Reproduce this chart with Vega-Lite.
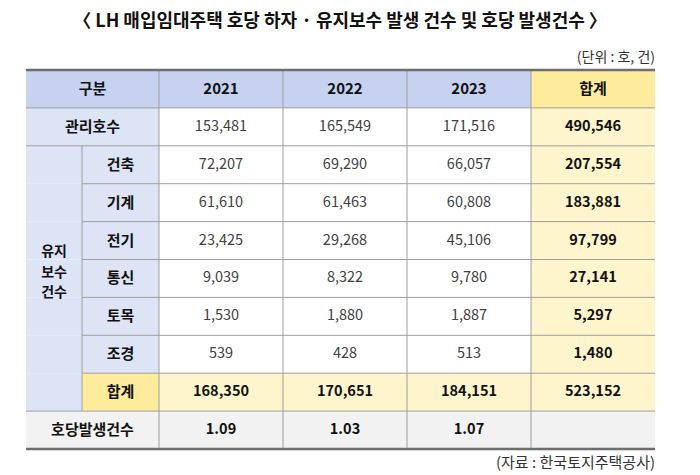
{
  "$schema": "https://vega.github.io/schema/vega-lite/v6.json",
  "width": 700,
  "height": 475,
  "autosize": {"type": "none"},
  "padding": 0,
  "background": "white",
  "config": {"view": {"stroke": null}, "text": {"font": "Noto Sans CJK KR"}},
  "datasets": {
    "cells": [
      {"row": "관리호수", "col": "2021", "value": 153481},
      {"row": "관리호수", "col": "2022", "value": 165549},
      {"row": "관리호수", "col": "2023", "value": 171516},
      {"row": "관리호수", "col": "합계", "value": 490546},
      {"row": "건축", "col": "2021", "value": 72207},
      {"row": "건축", "col": "2022", "value": 69290},
      {"row": "건축", "col": "2023", "value": 66057},
      {"row": "건축", "col": "합계", "value": 207554},
      {"row": "기계", "col": "2021", "value": 61610},
      {"row": "기계", "col": "2022", "value": 61463},
      {"row": "기계", "col": "2023", "value": 60808},
      {"row": "기계", "col": "합계", "value": 183881},
      {"row": "전기", "col": "2021", "value": 23425},
      {"row": "전기", "col": "2022", "value": 29268},
      {"row": "전기", "col": "2023", "value": 45106},
      {"row": "전기", "col": "합계", "value": 97799},
      {"row": "통신", "col": "2021", "value": 9039},
      {"row": "통신", "col": "2022", "value": 8322},
      {"row": "통신", "col": "2023", "value": 9780},
      {"row": "통신", "col": "합계", "value": 27141},
      {"row": "토목", "col": "2021", "value": 1530},
      {"row": "토목", "col": "2022", "value": 1880},
      {"row": "토목", "col": "2023", "value": 1887},
      {"row": "토목", "col": "합계", "value": 5297},
      {"row": "조경", "col": "2021", "value": 539},
      {"row": "조경", "col": "2022", "value": 428},
      {"row": "조경", "col": "2023", "value": 513},
      {"row": "조경", "col": "합계", "value": 1480},
      {"row": "합계", "col": "2021", "value": 168350},
      {"row": "합계", "col": "2022", "value": 170651},
      {"row": "합계", "col": "2023", "value": 184151},
      {"row": "합계", "col": "합계", "value": 523152},
      {"row": "호당발생건수", "col": "2021", "value": 1.09},
      {"row": "호당발생건수", "col": "2022", "value": 1.03},
      {"row": "호당발생건수", "col": "2023", "value": 1.07},
      {"row": "호당발생건수", "col": "합계", "value": null}
    ],
    "columns": [{"col": "2021"}, {"col": "2022"}, {"col": "2023"}, {"col": "합계"}],
    "rows": [
      {"row": "관리호수", "group": "관리호수"},
      {"row": "건축", "group": "유지보수건수"},
      {"row": "기계", "group": "유지보수건수"},
      {"row": "전기", "group": "유지보수건수"},
      {"row": "통신", "group": "유지보수건수"},
      {"row": "토목", "group": "유지보수건수"},
      {"row": "조경", "group": "유지보수건수"},
      {"row": "합계", "group": "유지보수건수"},
      {"row": "호당발생건수", "group": "호당발생건수"}
    ],
    "groups": [{"group": "유지보수건수", "text": "유지\n보수\n건수"}],
    "notes": [
      {"kind": "title", "text": "〈 LH 매입임대주택 호당 하자 · 유지보수 발생 건수 및 호당 발생건수 〉"},
      {"kind": "unit", "text": "(단위 : 호, 건)"},
      {"kind": "source", "text": "(자료 : 한국토지주택공사)"}
    ]
  },
  "layer": [
    {
      "data": {"name": "cells"},
      "mark": {"type": "rect"},
      "encoding": {
        "x": {"field": "col", "type": "nominal", "axis": null, "scale": {"type": "band", "domain": ["구분", "2021", "2022", "2023", "합계"], "range": [35, 655], "paddingInner": 0, "paddingOuter": 0}},
        "y": {"field": "row", "type": "nominal", "axis": null, "scale": {"type": "band", "domain": ["unit", "header", "관리호수", "건축", "기계", "전기", "통신", "토목", "조경", "합계", "호당발생건수", "source"], "range": [32.1, 486.9], "paddingInner": 0, "paddingOuter": 0}},
        "fill": {
          "condition": [
            {"test": "datum.row === '호당발생건수'", "value": "#f2f2f2"},
            {"test": "datum.row === '합계' || datum.col === '합계'", "value": "#fff5cc"}
          ],
          "value": "#ffffff"
        }
      }
    },
    {
      "data": {"name": "columns"},
      "mark": {"type": "rect"},
      "encoding": {
        "x": {"field": "col", "type": "nominal", "axis": null},
        "y": {"datum": "header", "type": "nominal", "axis": null},
        "fill": {"condition": {"test": "datum.col === '합계'", "value": "#ffeb9c"}, "value": "#c7d2f0"}
      }
    },
    {
      "data": {"values": [{"text": "구분"}]},
      "mark": {"type": "rect", "xOffset": -9, "fill": "#c7d2f0"},
      "encoding": {
        "x": {"datum": "구분", "type": "nominal", "bandPosition": 0, "axis": null},
        "x2": {"datum": "2021", "bandPosition": 0},
        "y": {"datum": "header", "type": "nominal", "axis": null}
      }
    },
    {
      "data": {"name": "rows"},
      "transform": [{"filter": "datum.group !== '유지보수건수'"}],
      "mark": {"type": "rect", "xOffset": -9},
      "encoding": {
        "x": {"datum": "구분", "type": "nominal", "bandPosition": 0, "axis": null},
        "x2": {"datum": "2021", "bandPosition": 0},
        "y": {"field": "row", "type": "nominal", "axis": null},
        "fill": {"condition": {"test": "datum.row === '호당발생건수'", "value": "#f2f2f2"}, "value": "#dde4f6"}
      }
    },
    {
      "data": {"name": "rows"},
      "transform": [{"filter": "datum.group === '유지보수건수'"}],
      "mark": {"type": "rect", "xOffset": 47},
      "encoding": {
        "x": {"datum": "구분", "type": "nominal", "bandPosition": 0, "axis": null},
        "x2": {"datum": "2021", "bandPosition": 0},
        "y": {"field": "row", "type": "nominal", "axis": null},
        "fill": {"condition": {"test": "datum.row === '합계'", "value": "#ffeb9c"}, "value": "#dde4f6"}
      }
    },
    {
      "data": {"name": "rows"},
      "transform": [{"filter": "datum.group === '유지보수건수'"}],
      "mark": {"type": "rect", "xOffset": -9, "x2Offset": 47, "fill": "#dde4f6"},
      "encoding": {
        "x": {"datum": "구분", "type": "nominal", "bandPosition": 0, "axis": null},
        "x2": {"datum": "구분", "bandPosition": 0},
        "y": {"field": "row", "type": "nominal", "axis": null}
      }
    },
    {
      "data": {"name": "rows"},
      "transform": [{"filter": "datum.row === '관리호수' || datum.row === '건축' || datum.row === '호당발생건수'"}],
      "mark": {"type": "rule", "xOffset": -9, "stroke": "#9e9e9e", "strokeWidth": 1},
      "encoding": {
        "x": {"datum": "구분", "type": "nominal", "bandPosition": 0, "axis": null},
        "x2": {"datum": "합계", "bandPosition": 1},
        "y": {"field": "row", "type": "nominal", "bandPosition": 0, "axis": null}
      }
    },
    {
      "data": {"name": "rows"},
      "transform": [{"filter": "datum.group === '유지보수건수' && datum.row !== '건축'"}],
      "mark": {"type": "rule", "xOffset": 47, "stroke": "#9e9e9e", "strokeWidth": 1},
      "encoding": {
        "x": {"datum": "구분", "type": "nominal", "bandPosition": 0, "axis": null},
        "x2": {"datum": "합계", "bandPosition": 1},
        "y": {"field": "row", "type": "nominal", "bandPosition": 0, "axis": null}
      }
    },
    {
      "data": {"name": "columns"},
      "mark": {"type": "rule", "stroke": "#9e9e9e", "strokeWidth": 1},
      "encoding": {
        "x": {"field": "col", "type": "nominal", "bandPosition": 0, "axis": null},
        "y": {"datum": "header", "type": "nominal", "bandPosition": 0, "axis": null},
        "y2": {"datum": "호당발생건수", "bandPosition": 1}
      }
    },
    {
      "data": {"name": "groups"},
      "mark": {"type": "rule", "xOffset": 47, "stroke": "#9e9e9e", "strokeWidth": 1},
      "encoding": {
        "x": {"datum": "구분", "type": "nominal", "bandPosition": 0, "axis": null},
        "y": {"datum": "건축", "type": "nominal", "bandPosition": 0, "axis": null},
        "y2": {"datum": "합계", "bandPosition": 1}
      }
    },
    {
      "data": {"values": [{"edge": "top"}]},
      "mark": {"type": "rule", "xOffset": -9, "stroke": "#6e6e6e", "strokeWidth": 2.5},
      "encoding": {
        "x": {"datum": "구분", "type": "nominal", "bandPosition": 0, "axis": null},
        "x2": {"datum": "합계", "bandPosition": 1},
        "y": {"datum": "header", "type": "nominal", "bandPosition": 0, "axis": null}
      }
    },
    {
      "data": {"values": [{"edge": "bottom"}]},
      "mark": {"type": "rule", "xOffset": -9, "stroke": "#6e6e6e", "strokeWidth": 2.5},
      "encoding": {
        "x": {"datum": "구분", "type": "nominal", "bandPosition": 0, "axis": null},
        "x2": {"datum": "합계", "bandPosition": 1},
        "y": {"datum": "호당발생건수", "type": "nominal", "bandPosition": 1, "axis": null}
      }
    },
    {
      "data": {"name": "columns"},
      "mark": {"type": "text", "fontSize": 15, "fontWeight": "bold", "fill": "#111111"},
      "encoding": {
        "x": {"field": "col", "type": "nominal", "axis": null},
        "y": {"datum": "header", "type": "nominal", "axis": null},
        "text": {"field": "col", "type": "nominal"}
      }
    },
    {
      "data": {"values": [{"text": "구분"}]},
      "mark": {"type": "text", "fontSize": 15, "fontWeight": "bold", "fill": "#111111", "dx": -4.5},
      "encoding": {
        "x": {"datum": "구분", "type": "nominal", "axis": null},
        "y": {"datum": "header", "type": "nominal", "axis": null},
        "text": {"field": "text", "type": "nominal"}
      }
    },
    {
      "data": {"name": "cells"},
      "transform": [{"filter": "datum.row !== '합계' && datum.row !== '호당발생건수' && datum.col !== '합계'"}],
      "mark": {"type": "text", "fontSize": 14.5, "fill": "#404040"},
      "encoding": {
        "x": {"field": "col", "type": "nominal", "axis": null},
        "y": {"field": "row", "type": "nominal", "axis": null},
        "text": {"field": "value", "type": "quantitative", "format": ","}
      }
    },
    {
      "data": {"name": "cells"},
      "transform": [{"filter": "datum.row !== '호당발생건수' && (datum.row === '합계' || datum.col === '합계')"}],
      "mark": {"type": "text", "fontSize": 14.5, "fontWeight": "bold", "fill": "#111111"},
      "encoding": {
        "x": {"field": "col", "type": "nominal", "axis": null},
        "y": {"field": "row", "type": "nominal", "axis": null},
        "text": {"field": "value", "type": "quantitative", "format": ","}
      }
    },
    {
      "data": {"name": "cells"},
      "transform": [{"filter": "datum.row === '호당발생건수' && isValid(datum.value)"}],
      "mark": {"type": "text", "fontSize": 14.5, "fontWeight": "bold", "fill": "#111111"},
      "encoding": {
        "x": {"field": "col", "type": "nominal", "axis": null},
        "y": {"field": "row", "type": "nominal", "axis": null},
        "text": {"field": "value", "type": "quantitative", "format": ".2f"}
      }
    },
    {
      "data": {"name": "rows"},
      "transform": [{"filter": "datum.group !== '유지보수건수'"}],
      "mark": {"type": "text", "fontSize": 15, "fontWeight": "bold", "fill": "#111111", "dx": -4.5},
      "encoding": {
        "x": {"datum": "구분", "type": "nominal", "axis": null},
        "y": {"field": "row", "type": "nominal", "axis": null},
        "text": {"field": "row", "type": "nominal"}
      }
    },
    {
      "data": {"name": "rows"},
      "transform": [{"filter": "datum.group === '유지보수건수'"}],
      "mark": {"type": "text", "fontSize": 15, "fontWeight": "bold", "fill": "#111111", "dx": 23.5},
      "encoding": {
        "x": {"datum": "구분", "type": "nominal", "axis": null},
        "y": {"field": "row", "type": "nominal", "axis": null},
        "text": {"field": "row", "type": "nominal"}
      }
    },
    {
      "data": {"name": "groups"},
      "mark": {"type": "text", "fontSize": 14, "fontWeight": "bold", "fill": "#111111", "dx": -43, "dy": -26, "lineBreak": "\n", "lineHeight": 20.5},
      "encoding": {
        "x": {"datum": "구분", "type": "nominal", "axis": null},
        "y": {"datum": "통신", "type": "nominal", "axis": null},
        "text": {"field": "text", "type": "nominal"}
      }
    },
    {
      "data": {"name": "notes"},
      "transform": [{"filter": "datum.kind === 'title'"}],
      "mark": {"type": "text", "fontSize": 18, "fontWeight": "bold", "fill": "#111111", "dx": -5, "dy": -29},
      "encoding": {
        "x": {"datum": "2022", "type": "nominal", "axis": null},
        "y": {"datum": "unit", "type": "nominal", "axis": null},
        "text": {"field": "text", "type": "nominal"}
      }
    },
    {
      "data": {"name": "notes"},
      "transform": [{"filter": "datum.kind === 'unit'"}],
      "mark": {"type": "text", "fontSize": 14, "fill": "#333333", "align": "right", "dy": 7},
      "encoding": {
        "x": {"datum": "합계", "type": "nominal", "bandPosition": 1, "axis": null},
        "y": {"datum": "unit", "type": "nominal", "axis": null},
        "text": {"field": "text", "type": "nominal"}
      }
    },
    {
      "data": {"name": "notes"},
      "transform": [{"filter": "datum.kind === 'source'"}],
      "mark": {"type": "text", "fontSize": 15, "fill": "#333333", "align": "right", "dy": -5},
      "encoding": {
        "x": {"datum": "합계", "type": "nominal", "bandPosition": 1, "axis": null},
        "y": {"datum": "source", "type": "nominal", "axis": null},
        "text": {"field": "text", "type": "nominal"}
      }
    }
  ]
}
